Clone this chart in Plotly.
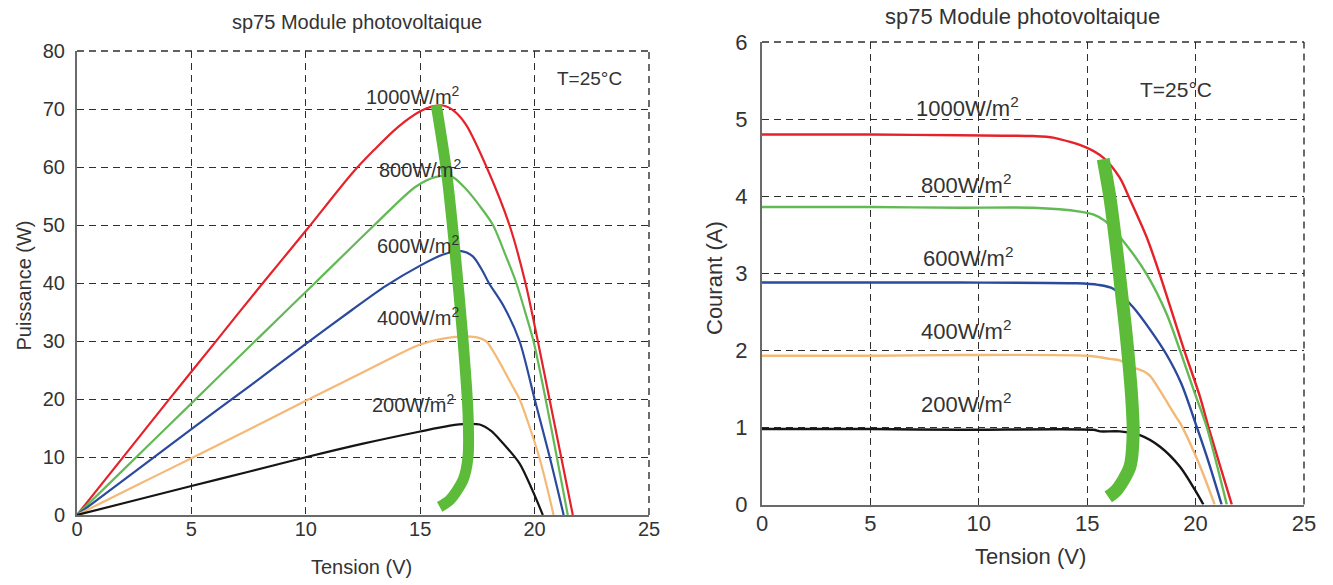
import plotly.graph_objects as go

# ---------------- Data: P-V curves (left) ----------------
V_p1000 = [0, 2, 4, 6, 8, 10, 12, 13, 14, 15, 15.5, 16, 16.5, 17, 17.9, 18.9, 19.6, 20.14, 20.65, 21.16, 21.67]
P_1000 = [0, 9.9, 19.8, 29.6, 39.4, 49, 58.8, 63.0, 66.8, 69.6, 70.4, 70.6, 69.6, 67.3, 60, 50, 40, 30, 20, 10, 0]

V_p800 = [0, 2, 4, 6, 8, 10.4, 13.0, 14.8, 15.7, 16.4, 17.0, 17.6, 18.18, 18.73, 19.2, 19.55, 19.95, 20.48, 20.97, 21.45]
P_800 = [0, 7.7, 15.4, 23.1, 30.8, 40, 50, 56.6, 58.3, 58.3, 56.2, 53.3, 50, 44.8, 40, 35.5, 30, 20, 10, 0]

V_p600 = [0, 2.5, 5, 7.5, 10, 12, 13.5, 15, 16, 16.8, 17.3, 17.75, 18.0, 18.65, 19.34, 20.0, 20.66, 21.27]
P_600 = [0, 7.4, 14.8, 22.1, 29.5, 35.3, 39.5, 43.0, 44.9, 45.5, 44.6, 41.9, 40, 36, 30, 20, 10, 0]

V_p400 = [0, 2.5, 5, 7.5, 10, 12.5, 14, 15, 16, 17, 17.6, 17.9, 18.33, 19.05, 19.34, 20.2, 20.83]
P_400 = [0, 4.9, 9.8, 14.7, 19.7, 24.6, 27.6, 29.4, 30.4, 30.8, 30.5, 29.9, 27.3, 22.1, 20, 10, 0]

V_p200 = [0, 2.5, 5, 7.5, 10, 12.5, 15, 16.3, 17, 17.6, 18.1, 18.5, 19.34, 19.9, 20.36]
P_200 = [0, 2.5, 5, 7.45, 9.95, 12.3, 14.4, 15.4, 15.7, 15.6, 14.5, 12.9, 8.9, 4.3, 0]

V_mppt_p = [15.7, 16.14, 16.5, 16.87, 17.09, 17.09, 16.87, 16.3, 15.85]
P_mppt = [70.7, 59.5, 46.3, 30.2, 17.5, 10, 6, 2.6, 1.4]

# ---------------- Data: I-V curves (right) ----------------
V_i1000 = [0, 5, 9.12, 12.5, 13.43, 14.97, 15.74, 16.5, 16.97, 17.74, 18.32, 19.43, 20.2, 20.59, 21.1, 21.67]
I_1000 = [4.8, 4.8, 4.79, 4.78, 4.76, 4.63, 4.5, 4.24, 3.96, 3.47, 3.01, 2.04, 1.40, 1.01, 0.53, 0]

V_i800 = [0, 5, 9.12, 12.5, 14.66, 15.3, 15.82, 16.66, 17.74, 18.67, 19.28, 19.97, 20.51, 21.44]
I_800 = [3.86, 3.86, 3.85, 3.85, 3.8, 3.76, 3.68, 3.42, 2.99, 2.47, 2.0, 1.44, 1.01, 0]

V_i600 = [0, 5, 9.12, 14.5, 15.5, 16.2, 17.12, 17.9, 18.65, 19.34, 20.05, 20.6, 21.2]
I_600 = [2.88, 2.88, 2.88, 2.87, 2.85, 2.8, 2.56, 2.27, 1.95, 1.57, 1.01, 0.55, 0]

V_i400 = [0, 5, 9.12, 14.97, 16.05, 16.5, 17.12, 17.6, 17.9, 18.33, 19.05, 19.34, 20.2, 20.88]
I_400 = [1.93, 1.93, 1.94, 1.93, 1.89, 1.87, 1.78, 1.73, 1.67, 1.49, 1.16, 1.03, 0.50, 0]

V_i200 = [0, 5, 9.12, 15.28, 15.6, 16.5, 17.43, 18.36, 19.28, 19.97, 20.36]
I_200 = [0.98, 0.98, 0.97, 0.97, 0.95, 0.95, 0.90, 0.75, 0.49, 0.19, 0]

V_mppt_i = [15.74, 16.05, 16.36, 16.6, 16.8, 17.05, 17.12, 16.97, 16.36, 15.97]
I_mppt = [4.48, 3.98, 3.3, 2.7, 2.2, 1.4, 0.92, 0.49, 0.19, 0.10]

# ---------------- Labels ----------------
irr_labels = ["1000W/m<sup>2</sup>", "800W/m<sup>2</sup>", "600W/m<sup>2</sup>",
              "400W/m<sup>2</sup>", "200W/m<sup>2</sup>"]
lab_pos_p = [(14.7, 72.3), (15.0, 59.8), (14.9, 46.7), (14.9, 34.2), (14.7, 19.2)]
lab_pos_i = [(9.5, 5.16), (9.4, 4.16), (9.5, 3.21), (9.4, 2.26), (9.4, 1.32)]
title_txt = "sp75 Module photovoltaique"
temp_txt = "T=25°C"

colors = ["#e5222a", "#62b955", "#2b4a9e", "#f4b977", "#151515"]
mppt_color = "#5cbc3a"
FONT = "Liberation Sans, Arial, sans-serif"
TXT = "#333333"
GRID = "#2e2e2e"

fig = go.Figure()

pv = [(V_p1000, P_1000), (V_p800, P_800), (V_p600, P_600), (V_p400, P_400), (V_p200, P_200)]
iv = [(V_i1000, I_1000), (V_i800, I_800), (V_i600, I_600), (V_i400, I_400), (V_i200, I_200)]

for (vx, vy), c in zip(pv, colors):
    fig.add_trace(go.Scatter(x=vx, y=vy, mode="lines", line=dict(color=c, width=2.2, shape="spline", smoothing=0.8),
                             xaxis="x", yaxis="y", showlegend=False))
fig.add_trace(go.Scatter(x=V_mppt_p, y=P_mppt, mode="lines", line=dict(color=mppt_color, width=11, shape="spline", smoothing=0.8),
                         xaxis="x", yaxis="y", showlegend=False))

for (vx, vy), c in zip(iv, colors):
    fig.add_trace(go.Scatter(x=vx, y=vy, mode="lines", line=dict(color=c, width=2.4, shape="spline", smoothing=0.8),
                             xaxis="x2", yaxis="y2", showlegend=False))
fig.add_trace(go.Scatter(x=V_mppt_i, y=I_mppt, mode="lines", line=dict(color=mppt_color, width=13, shape="spline", smoothing=0.8),
                         xaxis="x2", yaxis="y2", showlegend=False))

W, H = 1333, 585


def px_x(p):
    return p / W


def px_y(p):
    return 1 - p / H


grid = dict(showgrid=True, gridcolor=GRID, gridwidth=1.4, griddash="7px,5px",
            zeroline=False, showline=True, linecolor="#6a6a6a", linewidth=2, ticks="",
            mirror=False, automargin=False)

fig.update_layout(
    width=W, height=H,
    margin=dict(l=0, r=0, t=0, b=0, autoexpand=False),
    paper_bgcolor="white", plot_bgcolor="white",
    font=dict(family=FONT, color=TXT),
    xaxis=dict(domain=[px_x(77), px_x(649)], range=[0, 25], dtick=5, anchor="y",
               tickfont=dict(size=20, color=TXT), ticklabelstandoff=-5, **grid),
    yaxis=dict(domain=[px_y(515), px_y(51)], range=[0, 80], dtick=10, anchor="x",
               tickfont=dict(size=20, color=TXT), ticklabelstandoff=6, **grid),
    xaxis2=dict(domain=[px_x(762), px_x(1304)], range=[0, 25], dtick=5, anchor="y2",
                tickfont=dict(size=22, color=TXT), ticklabelstandoff=-2, **grid),
    yaxis2=dict(domain=[px_y(504.6), px_y(42)], range=[0, 6], dtick=1, anchor="x2",
                tickfont=dict(size=22, color=TXT), ticklabelstandoff=8, **grid),
)

# dashed box edges (top and right) like the gridlines at the range ends
shapes = []
for xr, yr in (("x", "y"), ("x2", "y2")):
    dline = dict(color=GRID, width=1.4, dash="7px,5px")
    shapes.append(dict(type="line", xref=f"{xr} domain", yref=f"{yr} domain",
                       x0=0, x1=1, y0=1, y1=1, line=dline, layer="below"))
    shapes.append(dict(type="line", xref=f"{xr} domain", yref=f"{yr} domain",
                       x0=1, x1=1, y0=0, y1=1, line=dline, layer="below"))
fig.update_layout(shapes=shapes)

C = dict(xanchor="center", yanchor="middle", showarrow=False)
ann = []
for t, (x, y) in zip(irr_labels, lab_pos_p):
    ann.append(dict(x=x, y=y, xref="x", yref="y", text=t, font=dict(size=20, color=TXT), **C))
for t, (x, y) in zip(irr_labels, lab_pos_i):
    ann.append(dict(x=x, y=y, xref="x2", yref="y2", text=t, font=dict(size=22, color=TXT), **C))
ann.append(dict(x=22.4, y=75.2, xref="x", yref="y", text=temp_txt, font=dict(size=19, color=TXT), **C))
ann.append(dict(x=19.1, y=5.38, xref="x2", yref="y2", text=temp_txt, font=dict(size=21, color=TXT), **C))
# titles
ann.append(dict(x=px_x(357), y=px_y(22), xref="paper", yref="paper", text=title_txt,
                font=dict(size=20, color=TXT), **C))
ann.append(dict(x=px_x(1022), y=px_y(16), xref="paper", yref="paper", text=title_txt,
                font=dict(size=22, color=TXT), **C))
# axis titles
ann.append(dict(x=px_x(361), y=px_y(567), xref="paper", yref="paper", text="Tension (V)",
                font=dict(size=20, color=TXT), **C))
ann.append(dict(x=px_x(1030), y=px_y(556), xref="paper", yref="paper", text="Tension (V)",
                font=dict(size=22, color=TXT), **C))
ann.append(dict(x=px_x(23.5), y=px_y(286), xref="paper", yref="paper", text="Puissance (W)",
                textangle=-90, font=dict(size=20, color=TXT), **C))
ann.append(dict(x=px_x(714), y=px_y(278), xref="paper", yref="paper", text="Courant (A)",
                textangle=-90, font=dict(size=22, color=TXT), **C))
fig.update_layout(annotations=ann)

fig.write_html("out.html")
